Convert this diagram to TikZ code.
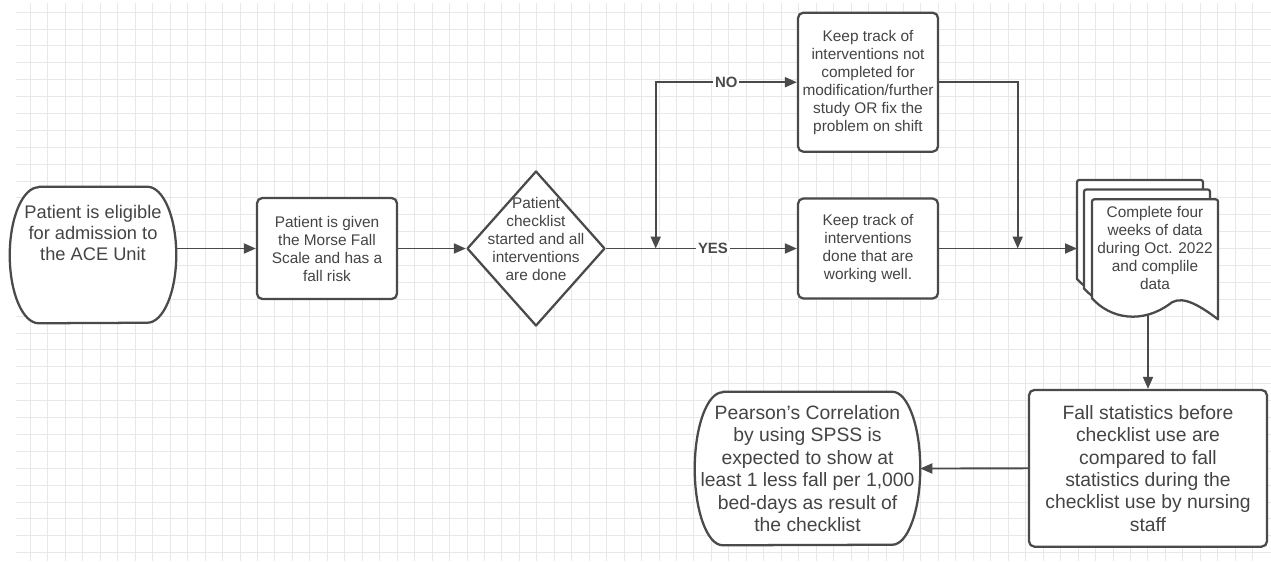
\documentclass[tikz,border=0pt]{standalone}
\usepackage{fontspec}
\setmainfont{Liberation Sans}
\usetikzlibrary{arrows.meta,shapes.geometric}
\pgfdeclarelayer{gridlayer}
\pgfdeclarelayer{bglayer}
\pgfsetlayers{gridlayer,bglayer,main}
\definecolor{linecol}{HTML}{4A4A4A}
\definecolor{txtcol}{HTML}{444444}
\definecolor{gridA}{HTML}{E8E8E8}
\newcommand\fntS{\fontsize{11.55pt}{13.5pt}\selectfont}
\newcommand\fntL{\fontsize{13.7pt}{15.75pt}\selectfont}
\newcommand\fntM{\fontsize{14.5pt}{16.8pt}\selectfont}
\newcommand\fntB{\fontsize{11.2pt}{13pt}\selectfont\bfseries}
\tikzset{
  shapeline/.style={draw=linecol, line width=1.7pt, line join=round},
  procbox/.style={shapeline, rounded corners=4pt, fill=white, align=center, text=txtcol, inner sep=1pt, font=\fntS},
  plaintxt/.style={align=center, text=txtcol, inner sep=1pt, font=\fntS},
  decision/.style={diamond, shapeline, fill=white, inner sep=0pt, minimum width=103.5pt, minimum height=116.25pt},
  termnode/.style={inner sep=0pt, minimum width=124.5pt, minimum height=102pt},
  conn/.style={draw=linecol, line width=1.4pt, -{Triangle[length=9pt,width=7.5pt]}},
  conntwo/.style={draw=linecol, line width=1.4pt, {Triangle[length=9pt,width=7.5pt]}-{Triangle[length=9pt,width=7.5pt]}},
  lbl/.style={fill=white, text=linecol, font=\fntB, inner sep=1.5pt},
  gridline/.style={draw=gridA, line width=0.75pt},
  docpage/.pic={
    \path[shapeline, fill=white] (0,99) -- (0,5) .. controls (0,0) .. (5,0) -- (121,0)
      .. controls (126,0) .. (126,5) -- (126,120)
      .. controls (110,108) and (92,96) .. (80,103)
      .. controls (50,126) and (18,119) .. (0,99) -- cycle;
  }
}
\begin{document}
\begin{tikzpicture}[x=0.75pt,y=-0.75pt]
\useasboundingbox (0,0) rectangle (1271,561);
\begin{pgfonlayer}{gridlayer}
  \fill[white] (0,0) rectangle (1271,561);
  \foreach \i in {0,...,70} {
    \pgfmathsetmacro{\gx}{round(30+17.46*\i)+0.5}
    \draw[gridline] (\gx,3) -- (\gx,561);
  }
  \foreach \j in {0,...,32} {
    \pgfmathsetmacro{\gy}{round(11.7+16.89*\j)+0.5}
    \draw[gridline] (16,\gy) -- (1271,\gy);
  }
\end{pgfonlayer}

% nodes
\node[termnode, label={[plaintxt, font=\fntL, yshift=16.5pt]center:{Patient is eligible\\for admission to\\the ACE Unit}}] (start) at (93,255) {};
\node[procbox, minimum width=105pt, minimum height=75.75pt] (scale) at (327,248.5) {Patient is given\\the Morse Fall\\Scale and has a\\fall risk};
\node[decision, label={[plaintxt, yshift=7pt]center:{Patient\\checklist\\started and all\\interventions\\are done}}] (dec) at (536,248.5) {};
\node[procbox, minimum width=105pt, minimum height=104.25pt] (track) at (868,82.2) {Keep track of\\interventions not\\completed for\\modification/further\\study OR fix the\\problem on shift};
\node[procbox, minimum width=105pt, minimum height=75pt] (done) at (868,248.5) {Keep track of\\interventions\\done that are\\working well.};
\node[plaintxt] (doc) at (1155,248) {Complete four\\weeks of data\\during Oct. 2022\\and complile\\data};
\node[procbox, font=\fntM, minimum width=178.5pt, minimum height=117.5pt] (fall) at (1148,468.3) {Fall statistics before\\checklist use are\\compared to fall\\statistics during the\\checklist use by nursing\\staff};
\node[plaintxt, font=\fntM, inner sep=0pt, minimum width=168.75pt, minimum height=114.75pt] (pear) at (807.5,468.5) {Pearson's Correlation\\by using SPSS is\\expected to show at\\least 1 less fall per 1,000\\bed-days as result of\\the checklist};

% outlines of custom shapes
\begin{pgfonlayer}{bglayer}
  \draw[shapeline, fill=white] ([xshift=21.75pt]start.north west) -- ([xshift=-21.75pt]start.north east)
    arc[start angle=90, end angle=-90, x radius=21.75pt, y radius=51pt]
    -- ([xshift=21.75pt]start.south west)
    arc[start angle=270, end angle=90, x radius=21.75pt, y radius=51pt] -- cycle;
  \draw[shapeline, fill=white] ([xshift=21pt]pear.north west) -- ([xshift=-21pt]pear.north east)
    arc[start angle=90, end angle=-90, x radius=21pt, y radius=57.375pt]
    -- ([xshift=21pt]pear.south west)
    arc[start angle=270, end angle=90, x radius=21pt, y radius=57.375pt] -- cycle;
  \pic at (1077,180) {docpage};
  \pic at (1084,189.5) {docpage};
  \pic at (1092,199.3) {docpage};
\end{pgfonlayer}

% connectors
\coordinate (jn) at (655.7,248.5);
\coordinate (jntwo) at (1017.7,248.5);
\coordinate (docin) at (1077,248.5);
\coordinate (docout) at (1148,314);
\draw[conn] (start.east |- scale.west) -- (scale.west);
\draw[conn] (scale.east) -- (dec.west);
\draw[conn] (dec.east) -- node[lbl, pos=0.56] {YES} (done.west);
\draw[conntwo] (jn) |- node[lbl, pos=0.75] {NO} (track.west);
\draw[conn] (track.east) -| (jntwo);
\draw[conn] (done.east) -- (docin);
\draw[conn] (docout) -- (fall.north);
\draw[conn] (fall.west) -- (pear.east);
\end{tikzpicture}
\end{document}
